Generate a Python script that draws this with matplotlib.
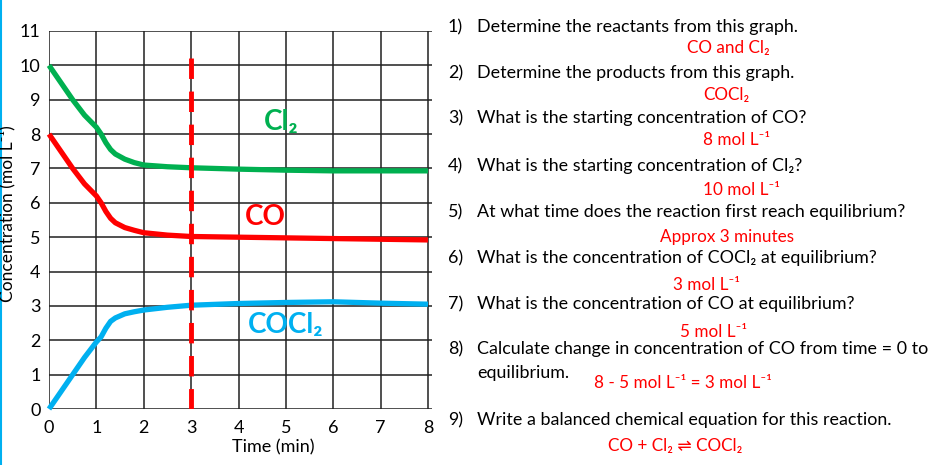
import matplotlib
matplotlib.use("Agg")
import matplotlib.pyplot as plt
from matplotlib.lines import Line2D

FAM = ['Lato', 'DejaVu Sans']
plt.rcParams['font.family'] = FAM

# ---- data ----
time = [0, 0.25, 0.5, 0.75, 1.0, 1.1, 1.2, 1.3, 1.4, 1.6, 1.8, 2.0, 2.5, 3, 4, 5, 6, 7, 8]
cl2 = [10, 9.5, 9.0, 8.55, 8.2, 8.0, 7.75, 7.55, 7.42, 7.27, 7.17, 7.1, 7.05, 7.02, 6.98, 6.95, 6.93, 6.93, 6.93]
co = [8, 7.5, 7.0, 6.55, 6.2, 6.0, 5.75, 5.55, 5.42, 5.28, 5.2, 5.13, 5.06, 5.02, 5.0, 4.98, 4.96, 4.94, 4.92]
cocl2 = [0, 0.5, 1.0, 1.5, 1.95, 2.1, 2.35, 2.55, 2.65, 2.77, 2.83, 2.88, 2.96, 3.02, 3.07, 3.1, 3.12, 3.08, 3.05]
eq_time = 3
eq_top = 10.4
xticks = list(range(0, 9))
yticks = list(range(0, 12))

questions = [
    ("1)", "Determine the reactants from this graph."),
    ("2)", "Determine the products from this graph."),
    ("3)", "What is the starting concentration of CO?"),
    ("4)", "What is the starting concentration of Cl\u2082?"),
    ("5)", "At what time does the reaction first reach equilibrium?"),
    ("6)", "What is the concentration of COCl\u2082 at equilibrium?"),
    ("7)", "What is the concentration of CO at equilibrium?"),
    ("8)", "Calculate change in concentration of CO from time = 0 to"),
    ("9)", "Write a balanced chemical equation for this reaction."),
]
q_y = [27, 73, 118, 166, 212, 258, 304, 349, 420]
answers = [
    ("CO and Cl\u2082", 687, 48),
    ("COCl\u2082", 703, 95),
    ("8 mol L\u207b\u00b9", 703, 140),
    ("10 mol L\u207b\u00b9", 703, 190),
    ("Approx 3 minutes", 660, 237),
    ("3 mol L\u207b\u00b9", 673, 285),
    ("5 mol L\u207b\u00b9", 680, 332),
    ("8 - 5 mol L\u207b\u00b9 = 3 mol L\u207b\u00b9", 594, 383),
    ("CO + Cl\u2082 \u21cc COCl\u2082", 608, 446),
]

GREEN = '#00B050'
RED = '#FF0000'
BLUE = '#00B0F0'

W, H = 940, 465
fig = plt.figure(figsize=(W / 100, H / 100), dpi=100)
ax = fig.add_axes([49 / W, 1 - 409 / H, (432 - 49) / W, (409 - 31) / H])

ax.set_xlim(0, 8 * 383 / 379)
ax.set_ylim(0, 11)
for x in xticks:
    ax.axvline(x, color='#202020', lw=1.1, zorder=1)
for y in yticks:
    ax.axhline(y, color='#202020', lw=1.1, zorder=1)
for s in ax.spines.values():
    s.set_visible(False)
ax.set_xticks(xticks)
ax.set_yticks(yticks)
ax.tick_params(axis='y', length=0, labelsize=13, pad=6)
ax.tick_params(axis='x', length=0, labelsize=13, pad=8)

ax.plot(time, cl2, color=GREEN, lw=3.8, solid_capstyle='butt', zorder=3, clip_on=False)
ax.plot(time, co, color=RED, lw=3.8, solid_capstyle='butt', zorder=3, clip_on=False)
ax.plot(time, cocl2, color=BLUE, lw=3.8, solid_capstyle='butt', zorder=3, clip_on=False)
ax.plot([eq_time, eq_time], [0, eq_top], color=RED, lw=3.5, ls=(0, (4.2, 2.6)), zorder=4)

ax.text(4.53, 8.35, "Cl\u2082", color=GREEN, fontsize=20, fontweight='bold', ha='left', va='center')
ax.text(4.13, 5.6, "CO", color=RED, fontsize=20, fontweight='bold', ha='left', va='center')
ax.text(4.2, 2.45, "COCl\u2082", color=BLUE, fontsize=20, fontweight='bold', ha='left', va='center')

fig.text(273 / W, 1 - 447 / H, "Time (min)", fontsize=13, ha='center', va='center')

fig.text(7 / W, 1 - 214 / H, "Concentration (mol L\u207b\u00b9)", rotation=90,
         fontsize=12.5, ha='center', va='center')
fig.add_artist(Line2D([1 / W, 1 / W], [0, 1], color=BLUE, lw=1.5))

for (num, q), y in zip(questions, q_y):
    fig.text(448 / W, 1 - y / H, num, fontsize=12.9, ha='left', va='center')
    fig.text(477 / W, 1 - y / H, q, fontsize=12.9, ha='left', va='center')
fig.text(477 / W, 1 - 373 / H, "equilibrium.", fontsize=12.9, ha='left', va='center')

for txt, x, y in answers:
    fig.text(x / W, 1 - y / H, txt, fontsize=12.3, color=RED, ha='left', va='center')

fig.savefig("out.png", dpi=100)
